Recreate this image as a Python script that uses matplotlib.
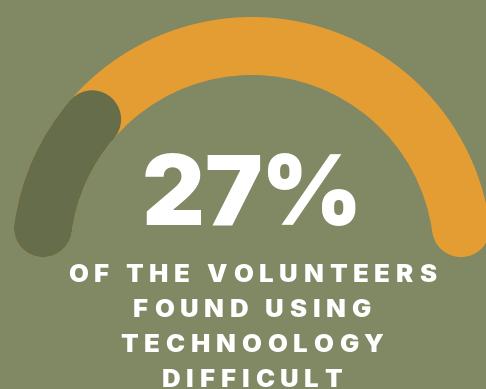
import numpy as np
import matplotlib
matplotlib.use("Agg")
import matplotlib.pyplot as plt
from matplotlib.patches import Wedge, Circle
from matplotlib.font_manager import FontProperties

# gauge data
pct = 27
total = 100
big_label = "27%"
lines = ["OF THE VOLUNTEERS", "FOUND USING", "TECHNOOLOGY", "DIFFICULT"]

bg = "#808864"
track_col = "#e49d33"
fill_col = "#666d4a"

W, H = 486, 389
fig = plt.figure(figsize=(W / 100, H / 100), dpi=100, facecolor=bg)
ax = fig.add_axes([0, 0, 1, 1])
ax.set_facecolor(bg)
ax.set_xlim(0, W)
ax.set_ylim(0, H)
ax.set_aspect("equal")
ax.axis("off")

cx, cy = 252, 132
R, w = 211, 58
cap = np.degrees((w / 2) / R)


def arc(a0, a1, col):
    # a0 > a1, visible ends including the round caps
    t1, t2 = a1 + cap, a0 - cap
    ax.add_patch(Wedge((cx, cy), R + w / 2, t1, t2, width=w, color=col, lw=0))
    for a in (t1, t2):
        ax.add_patch(Circle((cx + R * np.cos(np.radians(a)), cy + R * np.sin(np.radians(a))),
                            w / 2, color=col, lw=0))


arc(180, 0, track_col)
arc(180, 180 - 180 * pct / total, fill_col)

r = fig.canvas.get_renderer()


def tracked(s, y, size, track, family, weight):
    fp = FontProperties(family=family, weight=weight, size=size)
    tw = r.get_text_width_height_descent(s, fp, ismath=False)[0]
    total_w = tw + track * (len(s) - 1)
    x0 = cx - total_w / 2
    for i, c in enumerate(s):
        if c == " ":
            continue
        off = r.get_text_width_height_descent(s[:i], fp, ismath=False)[0] if i else 0
        ax.text(x0 + off + track * i, y, c, fontproperties=fp, color="white",
                ha="left", va="baseline")


fam = "Inter"
tracked(big_label, H - 225, 70, -1, fam, "black")
for i, s in enumerate(lines):
    tracked(s, H - (282 + 35 * i), 18.5, 5.8, fam, "black")

fig.savefig("out.png", dpi=100, facecolor=bg)
